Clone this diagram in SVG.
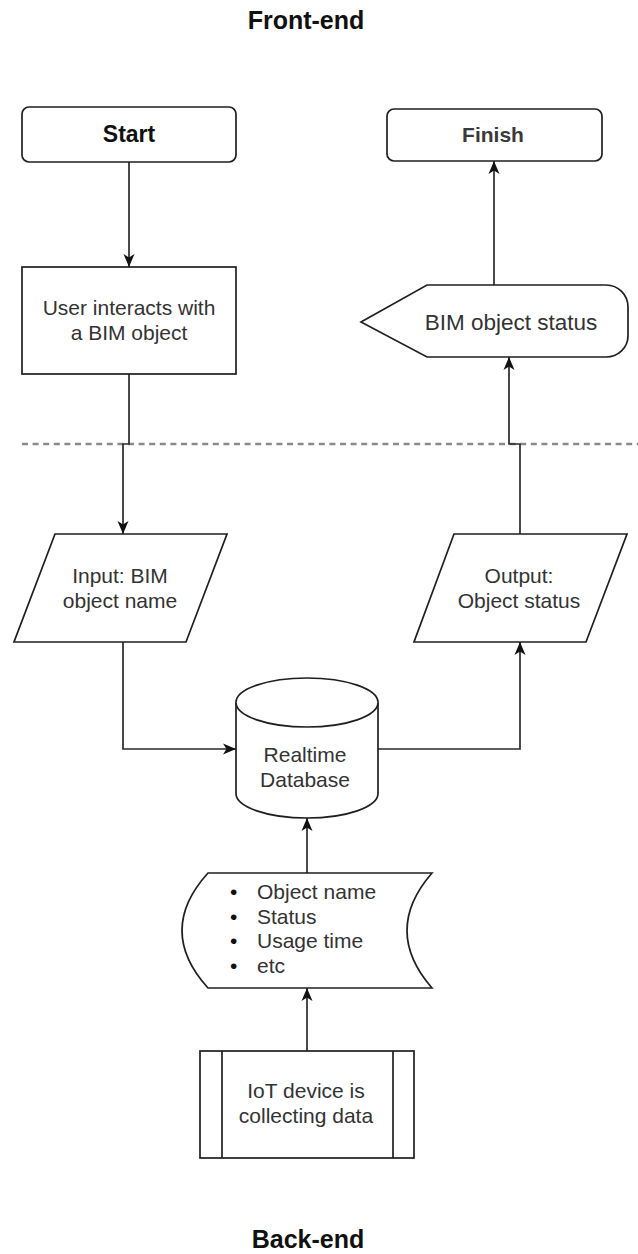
<svg xmlns="http://www.w3.org/2000/svg" width="638" height="1254" viewBox="0 0 638 1254">
  <style>
    .shape { fill: #ffffff; stroke: #1f1f1f; stroke-width: 1.7; }
    .edge { fill: none; stroke: #2a2a2a; stroke-width: 1.7; marker-end: url(#arrow); }
    .lbl { font-family: "Liberation Sans", Arial, sans-serif; font-size: 21px; fill: #333333; text-anchor: middle; }
    .title { font-family: "Liberation Sans", Arial, sans-serif; font-size: 25px; font-weight: bold; fill: #111111; text-anchor: middle; }
    .bold { font-weight: bold; }
  </style>
  <defs>
    <marker id="arrow" markerWidth="16" markerHeight="14" refX="14" refY="7" orient="auto" markerUnits="userSpaceOnUse">
      <path d="M1,1.5 L14,7 L1,12.5 L4.5,7 Z" fill="#111111"/>
    </marker>
  </defs>

  <rect width="638" height="1254" fill="#ffffff"/>

  <!-- section titles -->
  <text class="title" x="306" y="29">Front-end</text>
  <text class="title" x="308" y="1248">Back-end</text>

  <!-- front-end / back-end divider -->
  <line x1="22" y1="444" x2="638" y2="444" stroke="#8a8a8a" stroke-width="2.5" stroke-dasharray="6 4.6"/>

  <g id="connectors">
    <path class="edge" d="M129,162 V267"/>
    <path class="edge" d="M129,374 V444 H123 V534"/>
    <path class="edge" d="M123,642 V749 H236"/>
    <path class="edge" d="M378,749 H520 V642"/>
    <path class="edge" d="M520,534 V444 H509 V357"/>
    <path class="edge" d="M494,285 V161"/>
    <path class="edge" d="M307,873 V818"/>
    <path class="edge" d="M307,1051 V988"/>
  </g>

  <g id="start">
    <rect class="shape" x="22" y="107" width="214" height="55" rx="7"/>
    <text class="lbl bold" x="129" y="142" style="font-size:23px;fill:#111">Start</text>
  </g>

  <g id="finish">
    <rect class="shape" x="387" y="109" width="215" height="52" rx="7"/>
    <text class="lbl bold" x="493" y="142" style="fill:#3a3a3a">Finish</text>
  </g>

  <g id="user-interacts">
    <rect class="shape" x="22" y="267" width="214" height="107"/>
    <text class="lbl" x="129" y="315">User interacts with</text>
    <text class="lbl" x="129" y="340">a BIM object</text>
  </g>

  <g id="bim-status">
    <path class="shape" d="M361,322 L427,285 L606,285 A22,22 0 0 1 628,307 L628,336 A22,21 0 0 1 606,357 L427,357 Z"/>
    <text class="lbl" x="511" y="330" style="font-size:22.5px">BIM object status</text>
  </g>

  <g id="input">
    <path class="shape" d="M55,534 L227,534 L186,642 L14,642 Z"/>
    <text class="lbl" x="120" y="583">Input: BIM</text>
    <text class="lbl" x="120" y="608">object name</text>
  </g>

  <g id="output">
    <path class="shape" d="M454,534 L627,534 L586,642 L414,642 Z"/>
    <text class="lbl" x="519" y="583">Output:</text>
    <text class="lbl" x="519" y="608">Object status</text>
  </g>

  <g id="database">
    <path class="shape" d="M236,702.5 A71,24.5 0 0 1 378,702.5 V793.5 A71,24.5 0 0 1 236,793.5 Z"/>
    <path class="shape" d="M236,702.5 A71,24.5 0 0 0 378,702.5" fill="none"/>
    <text class="lbl" x="305" y="762">Realtime</text>
    <text class="lbl" x="305" y="787">Database</text>
  </g>

  <g id="data-fields">
    <path class="shape" d="M208,873 L432,873 Q382,930.5 432,988 L208,988 Q156,930.5 208,873 Z"/>
    <g class="lbl" style="text-anchor:start">
      <text x="230" y="899" style="fill:#111">•</text><text x="257" y="899">Object name</text>
      <text x="230" y="923.5" style="fill:#111">•</text><text x="257" y="923.5">Status</text>
      <text x="230" y="948" style="fill:#111">•</text><text x="257" y="948">Usage time</text>
      <text x="230" y="973" style="fill:#111">•</text><text x="257" y="973">etc</text>
    </g>
  </g>

  <g id="iot-device">
    <rect class="shape" x="200" y="1051" width="214" height="107"/>
    <line x1="222" y1="1051" x2="222" y2="1158" stroke="#1f1f1f" stroke-width="1.7"/>
    <line x1="393" y1="1051" x2="393" y2="1158" stroke="#1f1f1f" stroke-width="1.7"/>
    <text class="lbl" x="306" y="1098">IoT device is</text>
    <text class="lbl" x="306" y="1123">collecting data</text>
  </g>
</svg>
